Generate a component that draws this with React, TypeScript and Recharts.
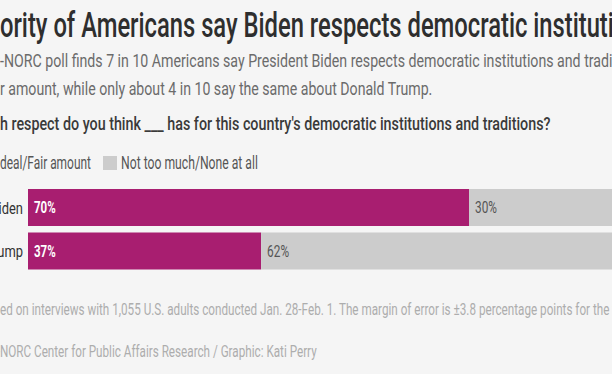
import React from "react";
import { BarChart, Bar, XAxis, YAxis, LabelList } from "recharts";

// poll results, in percent
const candidates = ["Biden", "Trump"];
const greatDealFair = [70, 37];
const notTooMuchNone = [30, 62];

const data = candidates.map((name, i) => ({
  name,
  great: greatDealFair[i],
  notMuch: notTooMuchNone[i],
}));

const MAGENTA = "#a81e70";
const GREY = "#cccccc";
const BG = "#f5f5f5";
const FONT = "Roboto";

// the graphic is cropped on both sides, so each line is fitted so the visible part lands where it does
type Line = {
  pre: string;
  vis: string;
  post: string;
  startX: number;
  endX: number;
  y: number;
  size: number;
  weight: number;
  color: string;
};

const LINES: Line[] = [
  { pre: "Maj", vis: "ority of Americans say Biden respects democratic instituti", post: "ons", startX: 0, endX: 614, y: 37, size: 35, weight: 500, color: "#2e2e2e" },
  { pre: "An AP", vis: "-NORC poll finds 7 in 10 Americans say President Biden respects democratic institutions and tradi", post: "tions a great deal", startX: 0, endX: 613, y: 67, size: 19, weight: 400, color: "#6b6b6b" },
  { pre: "or a fai", vis: "r amount, while only about 4 in 10 say the same about Donald Trump.", post: "", startX: 0, endX: 433, y: 95, size: 19, weight: 400, color: "#6b6b6b" },
  { pre: "How muc", vis: "h respect do you think ___ has for this country's democratic institutions and traditions?", post: "", startX: 0, endX: 551, y: 130, size: 18, weight: 500, color: "#3a3a3a" },
  { pre: "A great ", vis: "deal/Fair amount", post: "", startX: 0, endX: 91, y: 169, size: 18, weight: 400, color: "#555555" },
  { pre: "", vis: "Not too much/None at all", post: "", startX: 121, endX: 258, y: 169, size: 18, weight: 400, color: "#555555" },
  { pre: "Note: Bas", vis: "ed on interviews with 1,055 U.S. adults conducted Jan. 28-Feb. 1. The margin of error is ±3.8 percentage points for the", post: " full sample.", startX: 0, endX: 610, y: 315, size: 17, weight: 400, color: "#adadad" },
  { pre: "Source: AP-", vis: "NORC Center for Public Affairs Research / Graphic: Kati Perry", post: "", startX: 0, endX: 317, y: 357, size: 17, weight: 400, color: "#adadad" },
];

let ctx: CanvasRenderingContext2D | null = null;
function measure(s: string, size: number, weight: number) {
  if (!s) return 0;
  if (!ctx) ctx = document.createElement("canvas").getContext("2d");
  if (!ctx) return s.length * size * 0.5;
  ctx.font = `${weight} ${size}px ${FONT}`;
  return ctx.measureText(s).width;
}

function fit(l: Line) {
  const sx = (l.endX - l.startX) / measure(l.vis, l.size, l.weight);
  const x = l.startX - measure(l.pre, l.size, l.weight) * sx;
  return { sx, x };
}

const barLabel = (fill: string, weight: number, scale: number) => (p: any) => (
  <text
    transform={`translate(${Number(p.x) + 6},${Number(p.y) + Number(p.height) / 2}) scale(${scale},1)`}
    dy="0.36em"
    fill={fill}
    fontSize={16}
    fontWeight={weight}
    fontFamily={FONT}
  >
    {p.value}%
  </text>
);

const CategoryTick = (p: any) => (
  <text
    transform={`translate(${p.x},${p.y}) scale(0.76,1)`}
    textAnchor="end"
    dy="0.36em"
    fill="#333"
    fontSize={17}
    fontFamily={FONT}
  >
    {p.payload.value}
  </text>
);

export default function App() {
  const legendStart = fit(LINES[4]).x;

  return (
    <div style={{ position: "fixed", left: 0, top: 0, width: 612, height: 374, overflow: "hidden", background: BG }}>
      <svg width={612} height={374} style={{ position: "absolute", left: 0, top: 0 }}>
        {LINES.map((l, i) => {
          const { sx, x } = fit(l);
          return (
            <text
              key={i}
              transform={`translate(${x},${l.y}) scale(${sx},1)`}
              fontSize={l.size}
              fontWeight={l.weight}
              fontFamily={FONT}
              fill={l.color}
            >
              {l.pre + l.vis + l.post}
            </text>
          );
        })}
        <rect x={legendStart - 19} y={156} width={14} height={14} fill={MAGENTA} />
        <rect x={103} y={156} width={14} height={14} fill={GREY} />
      </svg>
      <div style={{ position: "absolute", left: 0, top: 186 }}>
        <BarChart
          layout="vertical"
          width={658}
          height={87}
          data={data}
          margin={{ top: 0, right: 0, bottom: 0, left: 0 }}
        >
          <XAxis type="number" domain={[0, 100]} hide />
          <YAxis
            type="category"
            dataKey="name"
            width={28}
            axisLine={false}
            tickLine={false}
            tickSize={0}
            tickMargin={5}
            tick={CategoryTick}
          />
          <Bar dataKey="great" stackId="a" fill={MAGENTA} barSize={37} isAnimationActive={false}>
            <LabelList dataKey="great" content={barLabel("#ffffff", 700, 0.72)} />
          </Bar>
          <Bar dataKey="notMuch" stackId="a" fill={GREY} barSize={37} isAnimationActive={false}>
            <LabelList dataKey="notMuch" content={barLabel("#555555", 400, 0.74)} />
          </Bar>
        </BarChart>
      </div>
    </div>
  );
}
